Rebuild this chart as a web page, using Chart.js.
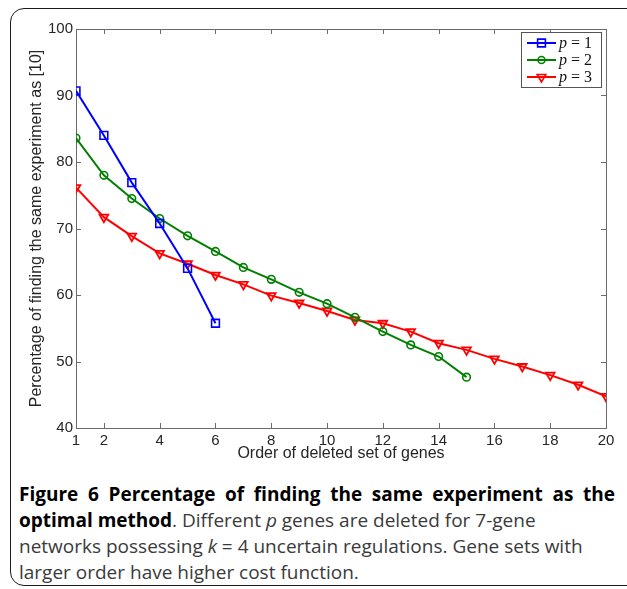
<!DOCTYPE html>
<html><head><meta charset="utf-8">
<script src="https://cdn.jsdelivr.net/npm/chart.js@4.4.1/dist/chart.umd.min.js"></script>
<style>
html,body{margin:0;padding:0;background:#fff;width:627px;height:589px;overflow:hidden;position:relative;}
#frame{position:absolute;left:10px;top:8px;width:660px;height:578px;border:1.5px solid #1a1a1a;border-radius:14px;box-sizing:border-box;}
#wrap{position:absolute;left:0;top:0;width:627px;height:470px;}
.cap{position:absolute;left:19px;font-family:'Open Sans',sans-serif;font-size:19px;line-height:26px;color:#3a3a3a;white-space:nowrap;}
.cap b{color:#000;font-weight:700}
#l1{width:596px;white-space:normal;text-align:justify;text-align-last:justify;}
</style></head><body>
<div id="frame"></div>
<div id="wrap"><canvas id="c" width="627" height="470"></canvas></div>
<div class="cap" id="l1" style="top:481px"><b>Figure 6 Percentage of finding the same experiment as the</b></div>
<div class="cap" style="top:507px"><b>optimal method</b>. Different <i>p</i> genes are deleted for 7-gene</div>
<div class="cap" style="top:533px">networks possessing <i>k</i> = 4 uncertain regulations. Gene sets with</div>
<div class="cap" style="top:559px">larger order have higher cost function.</div>
<script>
// ---- data ----
const orders = [1,2,3,4,5,6,7,8,9,10,11,12,13,14,15,16,17,18,19,20];
const p1Values = [90.7, 84.0, 76.9, 70.75, 64.0, 55.75];
const p2Values = [83.6, 78.0, 74.5, 71.5, 68.9, 66.55, 64.15, 62.35, 60.4, 58.7, 56.65, 54.5, 52.5, 50.75, 47.65];
const p3Values = [76.15, 71.7, 68.85, 66.25, 64.7, 63.0, 61.6, 59.9, 58.8, 57.6, 56.25, 55.75, 54.5, 52.75, 51.75, 50.4, 49.25, 47.95, 46.5, 44.75];
const seriesLabels = ['p = 1', 'p = 2', 'p = 3'];
const xTickValues = [1,2,4,6,8,10,12,14,16,18,20];
const yTickValues = [40,50,60,70,80,90,100];
const xAxisTitle = 'Order of deleted set of genes';
const yAxisTitle = 'Percentage of finding the same experiment as [10]';

const toPts = vals => vals.map((v,i)=>({x:orders[i], y:v}));
const sansFont = "'Liberation Sans', Arial, sans-serif";
const txtColor = '#262626';
const axisColor = '#6a6a6a';

function drawMarker(ctx, style, x, y, r, color){
  ctx.save();
  ctx.strokeStyle = color; ctx.lineWidth = 1.6; ctx.beginPath();
  if(style==='rect'){ const s=Math.SQRT1_2*r; ctx.rect(x-s,y-s,2*s,2*s); }
  else if(style==='circle'){ ctx.arc(x,y,r,0,Math.PI*2); }
  else {
    ctx.moveTo(x, y + r); ctx.lineTo(x - r*0.866, y - r*0.5); ctx.lineTo(x + r*0.866, y - r*0.5); ctx.closePath();
  }
  ctx.stroke(); ctx.restore();
}

const matlabAxes = {
  id:'matlabAxes',
  beforeDatasetsDraw(chart){
    const {ctx, chartArea:a, scales:{x, y}} = chart;
    ctx.save();
    ctx.strokeStyle = axisColor; ctx.lineWidth = 1;
    ctx.strokeRect(Math.round(a.left)+0.5, Math.round(a.top)+0.5, Math.round(a.right-a.left), Math.round(a.bottom-a.top));
    const tl = 5;
    ctx.beginPath();
    xTickValues.forEach(v=>{
      const px = Math.round(x.getPixelForValue(v))+0.5;
      ctx.moveTo(px, a.bottom); ctx.lineTo(px, a.bottom - tl);
      ctx.moveTo(px, a.top); ctx.lineTo(px, a.top + tl);
    });
    yTickValues.forEach(v=>{
      const py = Math.round(y.getPixelForValue(v))+0.5;
      ctx.moveTo(a.left, py); ctx.lineTo(a.left + tl, py);
      ctx.moveTo(a.right, py); ctx.lineTo(a.right - tl, py);
    });
    ctx.stroke();
    ctx.restore();
  },
  afterDraw(chart){
    const ctx = chart.ctx;
    const a = chart.chartArea;
    const bx = a.right - 85, by = a.top + 3, bw = 80, bh = 55;
    ctx.save();
    ctx.fillStyle = '#fff'; ctx.fillRect(bx, by, bw, bh);
    ctx.strokeStyle = '#555'; ctx.lineWidth = 1;
    ctx.strokeRect(Math.round(bx)+0.5, Math.round(by)+0.5, bw, bh);
    chart.data.datasets.forEach((ds, i)=>{
      const cy = by + 11 + i*17;
      ctx.strokeStyle = ds.borderColor; ctx.lineWidth = 2;
      ctx.beginPath(); ctx.moveTo(bx+6, cy); ctx.lineTo(bx+35, cy); ctx.stroke();
      drawMarker(ctx, ds.legendStyle, bx+20.5, cy, ds.legendR, ds.borderColor);
      const parts = ds.label.split(' ');
      ctx.fillStyle = '#111'; ctx.textBaseline = 'middle'; ctx.textAlign = 'left';
      ctx.font = "italic 16px 'Liberation Serif', serif";
      let tx = bx + 38;
      ctx.fillText(parts[0], tx, cy+1);
      tx += ctx.measureText(parts[0]).width + 4;
      ctx.font = "16px 'Liberation Serif', serif";
      ctx.fillText('=', tx, cy+1);
      tx += ctx.measureText('=').width + 4;
      ctx.fillText(parts[2], tx, cy+1);
    });
    ctx.restore();
  }
};

new Chart(document.getElementById('c'), {
  type:'line',
  data:{ datasets:[
    {label:seriesLabels[0], data:toPts(p1Values), borderColor:'#0000ff', backgroundColor:'rgba(0,0,0,0)', borderWidth:2,
     pointStyle:'rect', pointRadius:5.5, pointBorderWidth:1.6, legendStyle:'rect', legendR:5.5},
    {label:seriesLabels[1], data:toPts(p2Values), borderColor:'#008000', backgroundColor:'rgba(0,0,0,0)', borderWidth:2,
     pointStyle:'circle', pointRadius:3.8, pointBorderWidth:1.6, legendStyle:'circle', legendR:3.5},
    {label:seriesLabels[2], data:toPts(p3Values), borderColor:'#ff0000', backgroundColor:'rgba(0,0,0,0)', borderWidth:2,
     pointStyle:'triangle', pointRotation:180, pointRadius:5, pointBorderWidth:1.8, legendStyle:'tri', legendR:5}
  ]},
  options:{
    responsive:false, animation:false, devicePixelRatio:1,
    layout:{padding:{left:0, right:21, top:29, bottom:0}},
    plugins:{legend:{display:false}, tooltip:{enabled:false}},
    elements:{line:{tension:0}},
    scales:{
      x:{type:'linear', min:1, max:20,
         afterBuildTicks:s=>{s.ticks = xTickValues.map(v=>({value:v}));},
         grid:{display:false, drawTicks:false}, border:{display:false},
         ticks:{font:{family:sansFont, size:15}, color:txtColor, padding:4, maxRotation:0, autoSkip:false},
         title:{display:true, text:xAxisTitle, font:{family:sansFont, size:16}, color:txtColor, padding:{top:0,bottom:7}},
         afterFit:s=>{s.height = 42;}
      },
      y:{type:'linear', min:40, max:100,
         afterBuildTicks:s=>{s.ticks = yTickValues.map(v=>({value:v}));},
         grid:{display:false, drawTicks:false}, border:{display:false},
         ticks:{font:{family:sansFont, size:15}, color:txtColor, padding:3},
         title:{display:true, text:yAxisTitle, font:{family:sansFont, size:16}, color:txtColor, padding:{top:27,bottom:0}},
         afterFit:s=>{s.width = 76;}
      }
    }
  },
  plugins:[matlabAxes]
});
</script>
</body></html>
